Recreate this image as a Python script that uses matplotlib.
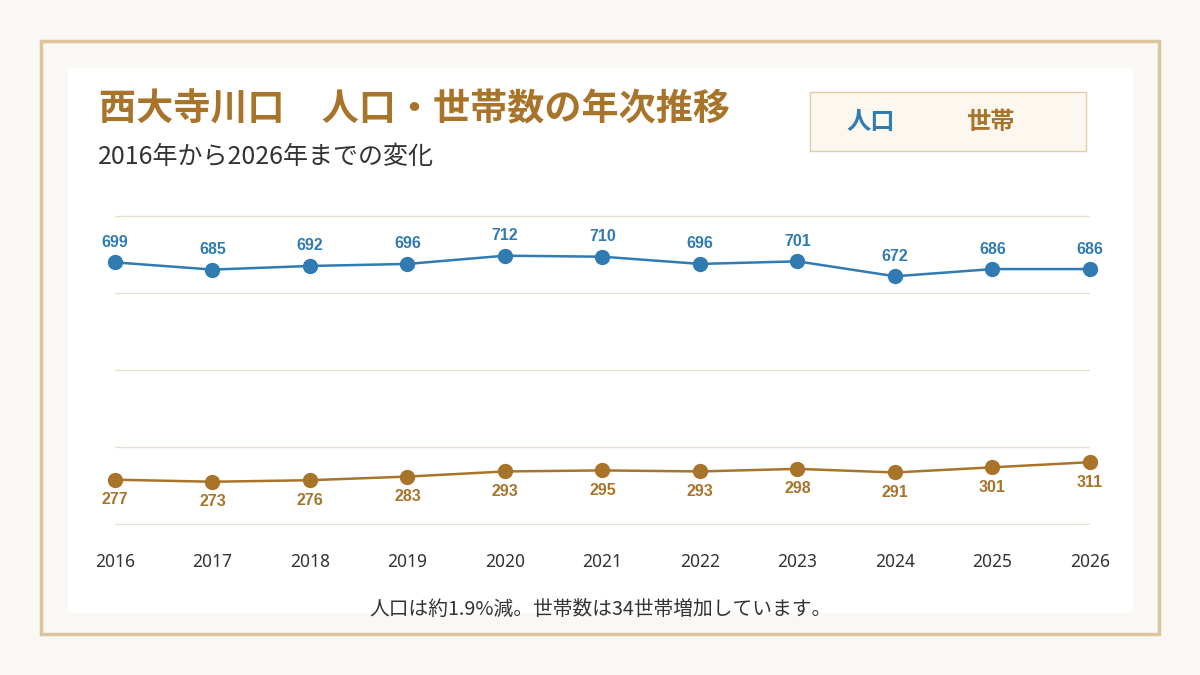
import matplotlib
matplotlib.use("Agg")
import matplotlib.pyplot as plt
from matplotlib.patches import Rectangle, FancyBboxPatch

plt.rcParams['font.family'] = ['Noto Sans CJK JP', 'DejaVu Sans']

years = [2016, 2017, 2018, 2019, 2020, 2021, 2022, 2023, 2024, 2025, 2026]
population = [699, 685, 692, 696, 712, 710, 696, 701, 672, 686, 686]
households = [277, 273, 276, 283, 293, 295, 293, 298, 291, 301, 311]

title = "西大寺川口　人口・世帯数の年次推移"
subtitle = "2016年から2026年までの変化"
footer = "人口は約1.9%減。世帯数は34世帯増加しています。"
legend_labels = ["人口", "世帯"]

BLUE = "#2f7bb2"
BROWN = "#a8742a"
GRID = "#e8e1cc"
TEXT = "#333333"

W, H = 1200, 675
fig = plt.figure(figsize=(12, 6.75), dpi=100)
fig.patch.set_facecolor("#faf8f5")

def fx(px):
    return px / W

def fy(py):
    return 1 - py / H

# outer frame and white panel
fig.patches.append(Rectangle((fx(41), fy(634)), fx(1159) - fx(41), fy(41) - fy(634),
                             transform=fig.transFigure, facecolor="none",
                             edgecolor="#dcc59d", linewidth=2.5, zorder=0))
fig.patches.append(FancyBboxPatch((fx(68), fy(613)), fx(1133) - fx(68), fy(68) - fy(613),
                                  boxstyle="round,pad=0,rounding_size=0.004",
                                  transform=fig.transFigure, facecolor="white",
                                  edgecolor="none", zorder=0))

# legend box
fig.patches.append(Rectangle((fx(810), fy(151)), fx(1086) - fx(810), fy(92) - fy(151),
                             transform=fig.transFigure, facecolor="#fcf8f0",
                             edgecolor="#e3cda6", linewidth=1, zorder=0))
fig.text(fx(846), fy(122), legend_labels[0], color=BLUE, fontsize=17.5,
         fontweight="bold", va="center", ha="left")
fig.text(fx(966), fy(122), legend_labels[1], color=BROWN, fontsize=17.5,
         fontweight="bold", va="center", ha="left")

fig.text(fx(99), fy(110), title, color=BROWN, fontsize=26.7, fontweight="bold",
         va="center", ha="left")
fig.text(fx(98), fy(157), subtitle, color=TEXT, fontsize=18, va="center", ha="left")
fig.text(0.5, fy(609), footer, color=TEXT, fontsize=14.2, va="center", ha="center")

ax = fig.add_axes([fx(115), fy(525), fx(1090) - fx(115), fy(215) - fy(525)])
ax.set_zorder(2)
ax.set_facecolor("none")
ax.set_xlim(2016, 2026)
ax.set_ylim(189, 791)
ax.set_yticks([190, 340, 490, 640, 790])
ax.yaxis.grid(True, color=GRID, linewidth=1)
ax.set_axisbelow(True)
for s in ax.spines.values():
    s.set_visible(False)
ax.tick_params(axis="y", left=False, labelleft=False)
ax.tick_params(axis="x", bottom=False, labelsize=12.5, labelcolor=TEXT, pad=17)
ax.set_xticks(years)
ax.set_xticklabels([str(y) for y in years], fontfamily=["Noto Sans", "DejaVu Sans"])

ax.plot(years, population, color=BLUE, linewidth=1.8, marker="o", markersize=10,
        clip_on=False, zorder=3)
ax.plot(years, households, color=BROWN, linewidth=1.8, marker="o", markersize=10,
        clip_on=False, zorder=3)

for x, v in zip(years, population):
    ax.annotate(str(v), (x, v), xytext=(0, 9), textcoords="offset points",
                ha="center", va="bottom", color=BLUE, fontsize=11.5, fontweight="bold",
                fontfamily=["Liberation Sans", "DejaVu Sans"])
for x, v in zip(years, households):
    ax.annotate(str(v), (x, v), xytext=(0, -9), textcoords="offset points",
                ha="center", va="top", color=BROWN, fontsize=11.5, fontweight="bold",
                fontfamily=["Liberation Sans", "DejaVu Sans"])

fig.savefig("out.png", dpi=100, facecolor=fig.get_facecolor())
